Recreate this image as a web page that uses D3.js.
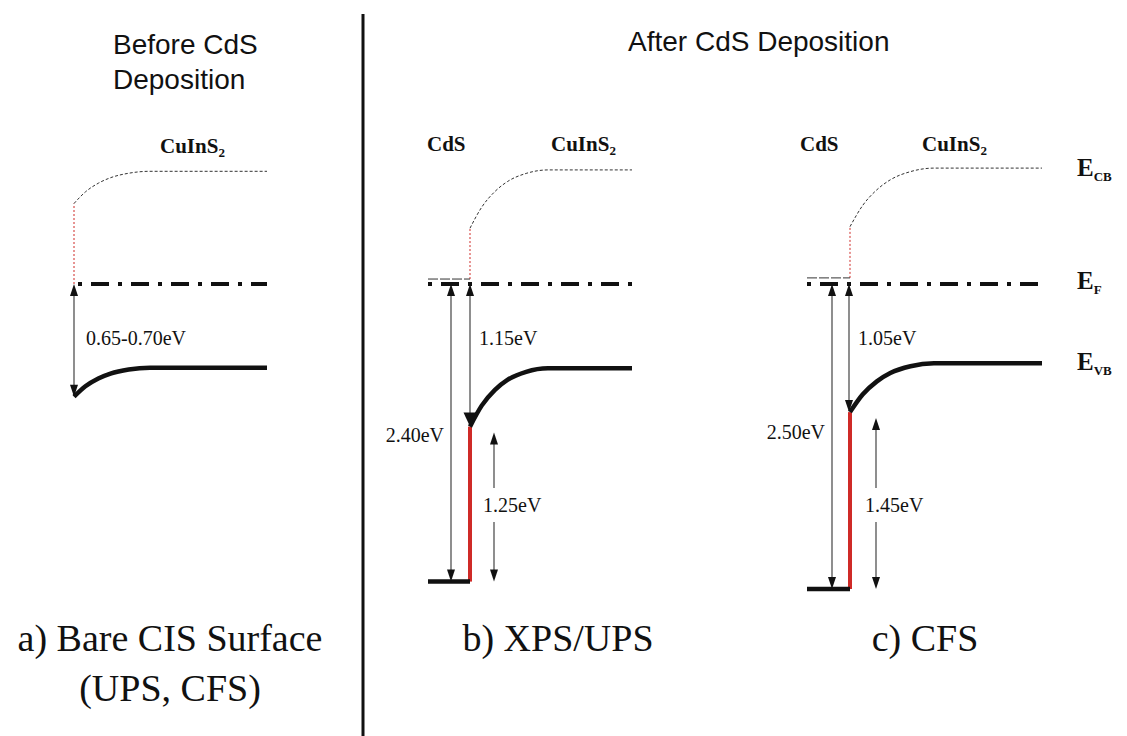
<!DOCTYPE html>
<html>
<head>
<meta charset="utf-8">
<script src="https://cdn.jsdelivr.net/npm/d3@7"></script>
<style>
  html, body { margin: 0; padding: 0; background: #fff; }
  svg { display: block; }
</style>
</head>
<body>
<script>
// Energy-band alignment at the CdS / CuInS2 interface, three schematic panels.
// Energies are in eV, measured downward from the common Fermi level (negative = above E_F).

const panelIds        = ["a", "b", "c"];
const efToVbSurface   = [0.70, 1.15, 1.05];   // E_F - E_VB of CuInS2 at the interface
const efToVbLabels    = ["0.65-0.70eV", "1.15eV", "1.05eV"];
const vbOffset        = [null, 1.25, 1.45];   // CuInS2 VB (interface) down to CdS VB
const vbOffsetLabels  = [null, "1.25eV", "1.45eV"];
const cdsEfToVb       = [null, 2.40, 2.50];   // E_F - E_VB of CdS
const cdsEfToVbLabels = [null, "2.40eV", "2.50eV"];
const vbBulk          = [0.52, 0.68, 0.65];   // flat CuInS2 VB below E_F
const cbBulk          = [0.70, 0.92, 0.95];   // flat CuInS2 CB above E_F
const cbSurface       = [0.50, 0.45, 0.47];   // CuInS2 CB above E_F at the interface
const cdsEfStep       = [null, 0.04, 0.05];   // CdS Fermi mark above the common E_F

// band-bending profile: fraction of bend width -> fraction of the band shift completed
const bendX = [0, 0.15, 0.32, 0.48, 0.72, 1];
const bendF = [0, 0.36, 0.63, 0.80, 0.94, 1];

const materialLabels = ["CdS", "CuInS"];
const levelNames     = [["E", "CB"], ["E", "F"], ["E", "VB"]];
const captions       = [["a) Bare CIS Surface", "(UPS, CFS)"], ["b) XPS/UPS"], ["c) CFS"]];
const headers        = [["Before CdS", "Deposition"], ["After CdS Deposition"]];

// ---- layout (pixels) ----
const W = 1127, H = 736;
const EF_Y = 284;
const layout = {
  a: { xi: 74,  xr: 267,  efStart: 78,  bend: 76, pxPerEv: 161, labelX: 12, cisX: 160 },
  b: { xi: 470, xl: 428, xr: 632,  bend: 78, pxPerEv: 124,
       farX: 451, nearX: 470, offX: 494, bigHead: true, cdsX: 427, cisX: 551, farY: 442 },
  c: { xi: 850, xl: 807, xr: 1042, bend: 84, pxPerEv: 122,
       farX: 832, nearX: 849, offX: 876, bigHead: false, cdsX: 800, cisX: 922, farY: 439 }
};

const RED = "#cf2a27";
const serif = "'Liberation Serif', 'Times New Roman', Times, serif";
const sans  = "'Liberation Sans', Arial, Helvetica, sans-serif";

const svg = d3.select("body").append("svg")
  .attr("width", W).attr("height", H)
  .attr("viewBox", `0 0 ${W} ${H}`);

svg.append("rect").attr("width", W).attr("height", H).attr("fill", "#fff");

// filled triangular arrow head; dir = -1 points up, +1 points down
function head(g, x, yTip, dir, w = 8, h = 12) {
  g.append("path")
    .attr("d", `M${x},${yTip} L${x - w / 2},${yTip - dir * h} L${x + w / 2},${yTip - dir * h} Z`)
    .attr("fill", "#111");
}

// vertical double arrow between y1 (top) and y2 (bottom)
function dblArrow(g, x, y1, y2, opts = {}) {
  const hTop = opts.topH || 12, hBot = opts.botH || 12;
  g.append("line")
    .attr("x1", x).attr("x2", x)
    .attr("y1", y1 + hTop - 1).attr("y2", y2 - hBot + 1)
    .attr("stroke", "#444").attr("stroke-width", 1.2);
  head(g, x, y1, -1, opts.topW || 8, hTop);
  head(g, x, y2, 1, opts.botW || 8, hBot);
}

function label(g, x, y, str, anchor = "start", bg = false) {
  const t = g.append("text")
    .attr("x", x).attr("y", y)
    .attr("font-family", serif).attr("font-size", 20)
    .attr("fill", "#111").attr("text-anchor", anchor)
    .text(str);
  if (bg) {
    const b = t.node().getBBox();
    g.insert("rect", () => t.node())
      .attr("x", b.x - 1).attr("y", b.y - 6)
      .attr("width", b.width + 2).attr("height", b.height + 12)
      .attr("fill", "#fff");
  }
  return t;
}

function material(g, x, y, base, sub) {
  const t = g.append("text")
    .attr("x", x).attr("y", y)
    .attr("font-family", serif).attr("font-weight", "bold")
    .attr("font-size", 21).attr("fill", "#111");
  t.append("tspan").text(base);
  if (sub) t.append("tspan").attr("font-size", 13).attr("dy", 4).text(sub);
}

const bendLine = d3.line().x(d => d[0]).y(d => d[1]).curve(d3.curveMonotoneX);

panelIds.forEach((id, i) => {
  const L = layout[id];
  const g = svg.append("g").attr("class", `panel-${id}`);
  const y = d3.scaleLinear().domain([0, 1]).range([EF_Y, EF_Y + L.pxPerEv]);
  const hasCdS = cdsEfToVb[i] != null;

  // band profile across the bend, then flat to the right edge
  const bandPts = (surf, bulk) => {
    const pts = bendX.map((fx, k) => [L.xi + fx * L.bend, y(surf + (bulk - surf) * bendF[k])]);
    pts.push([L.xr, y(bulk)]);
    return pts;
  };

  // conduction band: red dotted step at the interface, dashed bending band
  const cbFoot = hasCdS ? -cdsEfStep[i] : 0;
  g.append("line")
    .attr("x1", L.xi).attr("x2", L.xi)
    .attr("y1", y(cbFoot)).attr("y2", y(-cbSurface[i]))
    .attr("stroke", RED).attr("stroke-width", 1).attr("stroke-dasharray", "2,2");
  g.append("path")
    .attr("d", bendLine(bandPts(-cbSurface[i], -cbBulk[i])))
    .attr("fill", "none").attr("stroke", "#333")
    .attr("stroke-width", 1).attr("stroke-dasharray", "3,2");

  // Fermi level (dash-dot)
  const efStart = hasCdS ? L.xl : L.efStart;
  g.append("line")
    .attr("x1", efStart).attr("x2", L.xr)
    .attr("y1", y(0)).attr("y2", y(0))
    .attr("stroke", "#111").attr("stroke-width", 4)
    .attr("stroke-dasharray", "4,9,18,9");

  if (hasCdS) {
    // CdS Fermi mark
    g.append("line")
      .attr("x1", L.xl).attr("x2", L.xi)
      .attr("y1", y(-cdsEfStep[i])).attr("y2", y(-cdsEfStep[i]))
      .attr("stroke", "#333").attr("stroke-width", 1).attr("stroke-dasharray", "10,2");
    // valence-band offset (red) and CdS valence band
    g.append("line")
      .attr("x1", L.xi).attr("x2", L.xi)
      .attr("y1", y(efToVbSurface[i])).attr("y2", y(cdsEfToVb[i]))
      .attr("stroke", RED).attr("stroke-width", 4);
    g.append("line")
      .attr("x1", L.xl).attr("x2", L.xi)
      .attr("y1", y(cdsEfToVb[i])).attr("y2", y(cdsEfToVb[i]))
      .attr("stroke", "#111").attr("stroke-width", 4.5);
  }

  // valence band of CuInS2 (thick)
  g.append("path")
    .attr("d", bendLine(bandPts(efToVbSurface[i], vbBulk[i])))
    .attr("fill", "none").attr("stroke", "#111").attr("stroke-width", 4.5);

  if (!hasCdS) {
    dblArrow(g, L.xi, y(0), y(efToVbSurface[i]));
    label(g, L.xi + L.labelX, 345, efToVbLabels[i]);
    material(g, L.cisX, 153, materialLabels[1], "2");
  } else {
    // E_F to CdS VB
    dblArrow(g, L.farX, y(0), y(cdsEfToVb[i]));
    label(g, L.farX - 7, L.farY, cdsEfToVbLabels[i], "end");
    // E_F to CuInS2 VB at the interface
    dblArrow(g, L.nearX, y(0), y(efToVbSurface[i]),
      L.bigHead ? { botW: 13, botH: 14 } : {});
    label(g, L.nearX + 9, 345, efToVbLabels[i]);
    // VB offset
    dblArrow(g, L.offX, y(efToVbSurface[i]) + 6, y(cdsEfToVb[i]));
    label(g, L.offX - 11, 512, vbOffsetLabels[i], "start", true);
    // material names
    material(g, L.cdsX, 151, materialLabels[0]);
    material(g, L.cisX, 151, materialLabels[1], "2");
  }
});

// level names on the right
const levelY = [176, 289, 370];
levelNames.forEach((n, k) => {
  const t = svg.append("text")
    .attr("x", 1077).attr("y", levelY[k])
    .attr("font-family", serif).attr("font-weight", "bold")
    .attr("font-size", 25).attr("fill", "#111");
  t.append("tspan").text(n[0]);
  t.append("tspan").attr("font-size", 13).attr("dy", 5).text(n[1]);
});

// divider
svg.append("line")
  .attr("x1", 363).attr("x2", 363).attr("y1", 14).attr("y2", H)
  .attr("stroke", "#111").attr("stroke-width", 3);

// headers
headers[0].forEach((s, k) => {
  svg.append("text").attr("x", 113).attr("y", 54 + k * 35)
    .attr("font-family", sans).attr("font-size", 28).attr("fill", "#111").text(s);
});
svg.append("text").attr("x", 628).attr("y", 51)
  .attr("font-family", sans).attr("font-size", 28).attr("fill", "#111").text(headers[1][0]);

// captions
const capX = [170, 558, 925];
captions.forEach((lines, k) => {
  lines.forEach((s, j) => {
    svg.append("text").attr("x", capX[k]).attr("y", 651 + j * 50)
      .attr("text-anchor", "middle")
      .attr("font-family", serif).attr("font-size", 38).attr("fill", "#111").text(s);
  });
});
</script>
</body>
</html>
